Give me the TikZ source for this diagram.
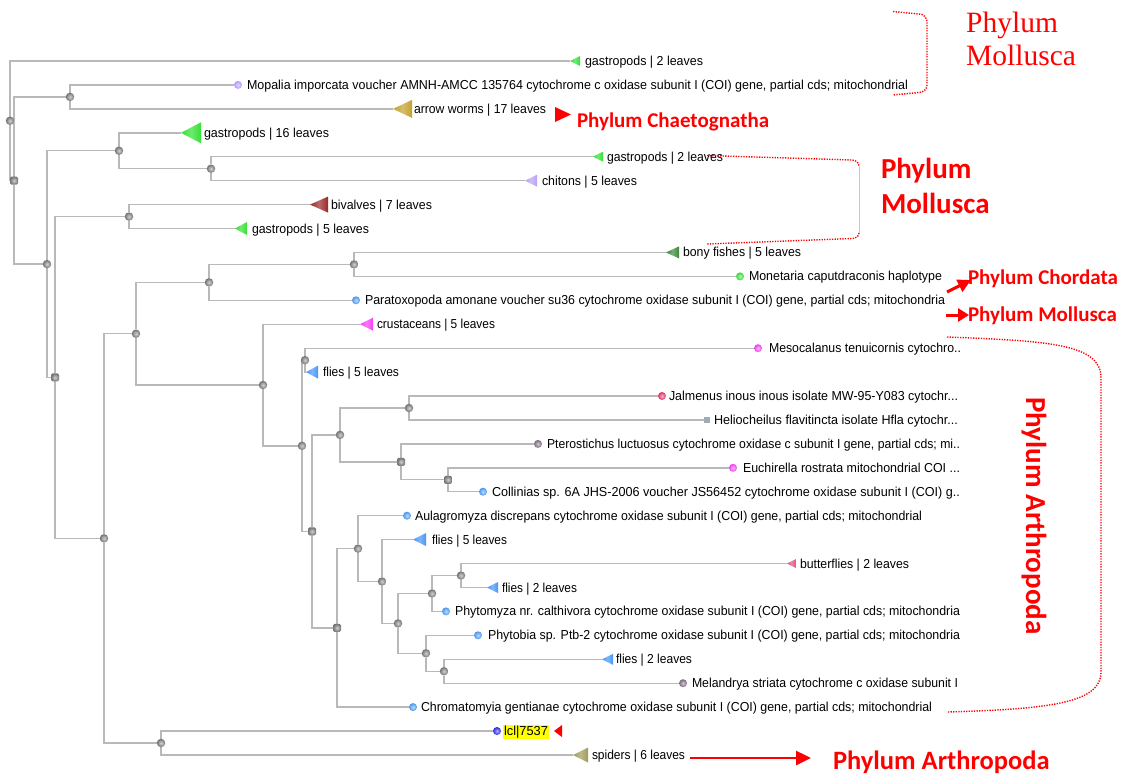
\documentclass[tikz,border=0pt]{standalone}
\usepackage{fontspec}
\usepackage{graphicx}
\usetikzlibrary{arrows.meta}
\newfontfamily\labfont{Liberation Sans}
\newfontfamily\calfont{Carlito}
\newfontfamily\serfont{Liberation Serif}
\pgfdeclarelayer{background}
\pgfsetlayers{background,main}
\definecolor{treegray}{RGB}{185,185,185}
\definecolor{cgreen}{RGB}{50,225,50}
\definecolor{cgold}{RGB}{195,160,45}
\definecolor{cchiton}{RGB}{185,160,245}
\definecolor{cbival}{RGB}{155,40,40}
\definecolor{cfish}{RGB}{60,135,60}
\definecolor{cmag}{RGB}{250,60,250}
\definecolor{cblue}{RGB}{70,150,245}
\definecolor{cpink}{RGB}{225,80,135}
\definecolor{colive}{RGB}{160,155,90}
\definecolor{dlav}{RGB}{180,150,255}
\definecolor{dgreen}{RGB}{50,220,50}
\definecolor{dblue}{RGB}{70,150,240}
\definecolor{dmag}{RGB}{240,60,240}
\definecolor{dcrim}{RGB}{220,50,100}
\definecolor{dslate}{RGB}{160,170,185}
\definecolor{dgp}{RGB}{120,105,125}
\definecolor{ddark}{RGB}{40,40,220}
\definecolor{hyellow}{RGB}{255,255,0}
\newsavebox\fitbox
\newcommand\fitw[2]{\sbox\fitbox{#2}\pgfmathsetmacro\fitsx{(#1)/\the\wd\fitbox}\scalebox{\fitsx}[1]{\usebox\fitbox}}
\newcommand\tri[6]{\coordinate (#1) at (#2,#3);
  \shade[left color=#6, right color=#6, middle color=#6!70!white] (#2,#3) -- ++(#4,-#5/2) -- ++(0,#5) -- cycle;}
\begin{document}
\begin{tikzpicture}[x=1pt,y=-1pt,
  br/.style={draw=treegray, line width=1.4pt},
  inode/.style={circle, inner sep=0pt, outer sep=0pt, minimum size=8.5pt, inner color=black!18, outer color=black!55},
  snode/.style={rectangle, rounded corners=1.5pt, inner sep=0pt, outer sep=0pt, minimum size=8pt, inner color=black!18, outer color=black!55},
  ldot/.style={circle, inner sep=0pt, outer sep=0pt, minimum size=8pt, inner color=#1!35!white, outer color=#1},
  lsq/.style={rectangle, inner sep=0pt, outer sep=0pt, minimum size=6.5pt, fill=#1},
  lab/.style={anchor=base west, inner sep=0pt, outer sep=0pt, font=\labfont\fontsize{13}{15}\selectfont},
  dotr/.style={draw=red, line width=1.4pt, dash pattern=on 1.3pt off 1.3pt},
  ann/.style={text=red, inner sep=0pt, outer sep=0pt, font=\calfont\bfseries\fontsize{21}{24}\selectfont},
  annarrow/.style={draw=red, line width=3pt, -{Triangle[length=13pt,width=13pt]}}
]
\begin{pgfonlayer}{background}
\fill[white] (0,0) rectangle (1126,777);
\end{pgfonlayer}
\useasboundingbox (0,0) rectangle (1126,777);

% ---------- internal nodes
\node[inode] (nA) at (10,120.75) {};
\node[snode] (nB) at (14,180.5) {};
\node[inode] (nC) at (70,96.9) {};
\node[inode] (nD) at (47,264.1) {};
\node[inode] (nE) at (119,150.75) {};
\node[snode] (nF) at (55,377.45) {};
\node[inode] (nG) at (129,216.55) {};
\node[inode] (nH) at (104,538.35) {};
\node[inode] (nI) at (211,168.7) {};
\node[inode] (nJ) at (136,333.7) {};
\node[inode] (nK) at (161,743) {};
\node[inode] (nL) at (209,282.35) {};
\node[inode] (nM) at (263,385) {};
\node[inode] (nN) at (354,264.4) {};
\node[inode] (nO) at (302,445.8) {};
\node[inode] (nP) at (305,360.15) {};
\node[snode] (nQ) at (312,531.4) {};
\node[inode] (nR) at (340,434.9) {};
\node[snode] (nS) at (337,627.85) {};
\node[inode] (nT) at (409,408) {};
\node[snode] (nU) at (401,461.8) {};
\node[snode] (nV) at (448,479.75) {};
\node[inode] (nW) at (358,548.6) {};
\node[inode] (nX) at (382,581.5) {};
\node[inode] (nY) at (398,623.4) {};
\node[inode] (nZ) at (432,593.45) {};
\node[inode] (nAA) at (426,653.3) {};
\node[inode] (nAB) at (461,575.5) {};
\node[inode] (nAC) at (444,671.25) {};

% ---------- leaves
\tri{m0}{570}{61}{10}{10}{cgreen}
\node[lab] (t0) at (585,65.5) {\fitw{118}{gastropods | 2 leaves}};
\node[ldot=dlav] (m1) at (238,84.9) {};
\node[lab] (t1) at (247,89.4) {\fitw{661}{Mopalia imporcata voucher AMNH-AMCC 135764 cytochrome c oxidase subunit I (COI) gene, partial cds; mitochondrial}};
\tri{m2}{393}{108.9}{19}{18}{cgold}
\node[lab] (t2) at (414,113.4) {\fitw{132}{arrow worms | 17 leaves}};
\tri{m3}{181}{132.8}{20}{21}{cgreen}
\node[lab] (t3) at (204,137.3) {\fitw{125}{gastropods | 16 leaves}};
\tri{m4}{593}{156.7}{10}{10}{cgreen}
\node[lab] (t4) at (607,161.2) {\fitw{116}{gastropods | 2 leaves}};
\tri{m5}{525}{180.7}{12}{12}{cchiton}
\node[lab] (t5) at (542,185.2) {\fitw{95}{chitons | 5 leaves}};
\tri{m6}{310}{204.6}{18}{16}{cbival}
\node[lab] (t6) at (331,209.1) {\fitw{101}{bivalves | 7 leaves}};
\tri{m7}{235}{228.5}{12}{13}{cgreen}
\node[lab] (t7) at (252,233) {\fitw{117}{gastropods | 5 leaves}};
\tri{m8}{666}{252.4}{13}{12}{cfish}
\node[lab] (t8) at (683,256.9) {\fitw{118}{bony fishes | 5 leaves}};
\node[ldot=dgreen] (m9) at (740,276.4) {};
\node[lab] (t9) at (749,280.9) {\fitw{193}{Monetaria caputdraconis haplotype}};
\node[ldot=dblue] (m10) at (356,300.3) {};
\node[lab] (t10) at (365,304.8) {\fitw{580}{Paratoxopoda amonane voucher su36 cytochrome oxidase subunit I (COI) gene, partial cds; mitochondria}};
\tri{m11}{360}{324.2}{13}{13}{cmag}
\node[lab] (t11) at (377,328.7) {\fitw{118}{crustaceans | 5 leaves}};
\node[ldot=dmag] (m12) at (758,348.2) {};
\node[lab] (t12) at (769,352.7) {\fitw{192}{Mesocalanus tenuicornis cytochro..}};
\tri{m13}{306}{372.1}{12}{13}{cblue}
\node[lab] (t13) at (323,376.6) {\fitw{76}{flies | 5 leaves}};
\node[ldot=dcrim] (m14) at (662,396) {};
\node[lab] (t14) at (669,400.5) {\fitw{289}{Jalmenus inous inous isolate MW-95-Y083 cytochr...}};
\node[lsq=dslate] (m15) at (707,420) {};
\node[lab] (t15) at (714,424.5) {\fitw{244}{Heliocheilus flavitincta isolate Hfla cytochr...}};
\node[ldot=dgp] (m16) at (538,443.9) {};
\node[lab] (t16) at (547,448.4) {\fitw{413}{Pterostichus luctuosus cytochrome oxidase c subunit I gene, partial cds; mi..}};
\node[ldot=dmag] (m17) at (733,467.8) {};
\node[lab] (t17) at (743,472.3) {\fitw{217}{Euchirella rostrata mitochondrial COI ...}};
\node[ldot=dblue] (m18) at (483,491.7) {};
\node[lab] (t18) at (492,496.2) {\fitw{468}{Collinias sp. 6A JHS-2006 voucher JS56452 cytochrome oxidase subunit I (COI) g..}};
\node[ldot=dblue] (m19) at (407,515.7) {};
\node[lab] (t19) at (415,520.2) {\fitw{507}{Aulagromyza discrepans cytochrome oxidase subunit I (COI) gene, partial cds; mitochondrial}};
\tri{m20}{413}{539.6}{13}{13}{cblue}
\node[lab] (t20) at (432,544.1) {\fitw{75}{flies | 5 leaves}};
\tri{m21}{787}{563.5}{9}{9}{cpink}
\node[lab] (t21) at (800,568) {\fitw{109}{butterflies | 2 leaves}};
\tri{m22}{487}{587.5}{11}{11}{cblue}
\node[lab] (t22) at (502,592) {\fitw{75}{flies | 2 leaves}};
\node[ldot=dblue] (m23) at (446,611.4) {};
\node[lab] (t23) at (455,615.9) {\fitw{505}{Phytomyza nr. calthivora cytochrome oxidase subunit I (COI) gene, partial cds; mitochondria}};
\node[ldot=dblue] (m24) at (478,635.3) {};
\node[lab] (t24) at (488,639.8) {\fitw{472}{Phytobia sp. Ptb-2 cytochrome oxidase subunit I (COI) gene, partial cds; mitochondria}};
\tri{m25}{602}{659.3}{11}{11}{cblue}
\node[lab] (t25) at (616,663.8) {\fitw{76}{flies | 2 leaves}};
\node[ldot=dgp] (m26) at (683,683.2) {};
\node[lab] (t26) at (692,687.7) {\fitw{266}{Melandrya striata cytochrome c oxidase subunit I}};
\node[ldot=dblue] (m27) at (413,707.1) {};
\node[lab] (t27) at (421,711.6) {\fitw{511}{Chromatomyia gentianae cytochrome oxidase subunit I (COI) gene, partial cds; mitochondrial}};
\node[ldot=ddark] (m28) at (497,731) {};
\node[lab, fill=hyellow, inner sep=1pt] (t28) at (503,735.5) {\fitw{44}{lcl|7537}};
\fill[red] (554,731) -- (562,725) -- (562,737) -- cycle;
\tri{m29}{573}{755}{15}{15}{colive}
\node[lab] (t29) at (592,759.5) {\fitw{93}{spiders | 6 leaves}};

% ---------- branches
\begin{pgfonlayer}{background}
\draw[br] (nA) |- (m0);  \draw[br] (nA) |- (nB);
\draw[br] (nB) |- (nC);  \draw[br] (nB) |- (nD);
\draw[br] (nC) |- (m1);  \draw[br] (nC) |- (m2);
\draw[br] (nD) |- (nE);  \draw[br] (nD) |- (nF);
\draw[br] (nE) |- (m3);  \draw[br] (nE) |- (nI);
\draw[br] (nI) |- (m4);  \draw[br] (nI) |- (m5);
\draw[br] (nF) |- (nG);  \draw[br] (nF) |- (nH);
\draw[br] (nG) |- (m6);  \draw[br] (nG) |- (m7);
\draw[br] (nH) |- (nJ);  \draw[br] (nH) |- (nK);
\draw[br] (nJ) |- (nL);  \draw[br] (nJ) |- (nM);
\draw[br] (nL) |- (nN);  \draw[br] (nL) |- (m10);
\draw[br] (nN) |- (m8);  \draw[br] (nN) |- (m9);
\draw[br] (nM) |- (m11); \draw[br] (nM) |- (nO);
\draw[br] (nO) |- (nP);  \draw[br] (nO) |- (nQ);
\draw[br] (nP) |- (m12); \draw[br] (nP) |- (m13);
\draw[br] (nQ) |- (nR);  \draw[br] (nQ) |- (nS);
\draw[br] (nR) |- (nT);  \draw[br] (nR) |- (nU);
\draw[br] (nT) |- (m14); \draw[br] (nT) |- (m15);
\draw[br] (nU) |- (m16); \draw[br] (nU) |- (nV);
\draw[br] (nV) |- (m17); \draw[br] (nV) |- (m18);
\draw[br] (nS) |- (nW);  \draw[br] (nS) |- (m27);
\draw[br] (nW) |- (m19); \draw[br] (nW) |- (nX);
\draw[br] (nX) |- (m20); \draw[br] (nX) |- (nY);
\draw[br] (nY) |- (nZ);  \draw[br] (nY) |- (nAA);
\draw[br] (nZ) |- (nAB); \draw[br] (nZ) |- (m23);
\draw[br] (nAB) |- (m21); \draw[br] (nAB) |- (m22);
\draw[br] (nAA) |- (m24); \draw[br] (nAA) |- (nAC);
\draw[br] (nAC) |- (m25); \draw[br] (nAC) |- (m26);
\draw[br] (nK) |- (m28); \draw[br] (nK) |- (m29);
\end{pgfonlayer}

% ---------- annotations
% top-right Mollusca bracket
\draw[dotr] (893,11.5) -- (919,14) to[out=0,in=90] (927,22) -- (927,85) to[out=-90,in=0] (919,92.5) -- (893,95);
\node[text=red, anchor=base west, inner sep=0pt, font=\serfont\fontsize{29.5}{32}\selectfont] (pm1a) at (966,32) {Phylum};
\node[text=red, anchor=base west, inner sep=0pt, font=\serfont\fontsize{29.5}{32}\selectfont] (pm1b) at (966,65) {Mollusca};

% Chaetognatha
\fill[red] (555,107) -- (571,114.5) -- (555,122) -- cycle;
\node[ann, anchor=base west] (pch) at (577,127) {Phylum Chaetognatha};

% middle Mollusca bracket
\draw[dotr] (707,155.5) -- (852,160) to[out=0,in=90] (859,166);
\draw[red!30, line width=0.7pt] (859,166) -- (859,233);
\draw[dotr] (859,233) to[out=-90,in=0] (852,238.5) -- (707,244);
\node[ann, anchor=base west, font=\calfont\bfseries\fontsize{29}{32}\selectfont] (pm2a) at (881,178) {Phylum};
\node[ann, anchor=base west, font=\calfont\bfseries\fontsize{29}{32}\selectfont] (pm2b) at (881,213) {Mollusca};

% Chordata / Mollusca arrows
\coordinate (c1s) at (947,292);
\coordinate (c1e) at (971,280);
\draw[annarrow] (c1s) -- (c1e);
\node[ann, anchor=base west] (pcd) at (968,284) {Phylum Chordata};
\coordinate (c2s) at (946,315);
\coordinate (c2e) at (969,315);
\draw[annarrow, -{Triangle[length=11pt,width=13pt]}] (c2s) -- (c2e);
\node[ann, anchor=base west] (pml) at (968,321) {Phylum Mollusca};

% Arthropoda bracket
\draw[dotr] (947,337) .. controls (1050,341) and (1101,344) .. (1101,378) -- (1101,672) .. controls (1101,703) and (1050,709) .. (947,712);
\node[ann, font=\calfont\bfseries\fontsize{29}{32}\selectfont, rotate=-90] (par1) at (1034,516) {Phylum Arthropoda};

% bottom arrow
\coordinate (c3s) at (690,758);
\coordinate (c3e) at (811,758);
\draw[draw=red, line width=2.5pt, -{Triangle[length=15pt,width=14pt]}] (c3s) -- (c3e);
\node[ann, anchor=base west, font=\calfont\bfseries\fontsize{26.5}{30}\selectfont] (par2) at (833,769) {Phylum Arthropoda};
\end{tikzpicture}
\end{document}
